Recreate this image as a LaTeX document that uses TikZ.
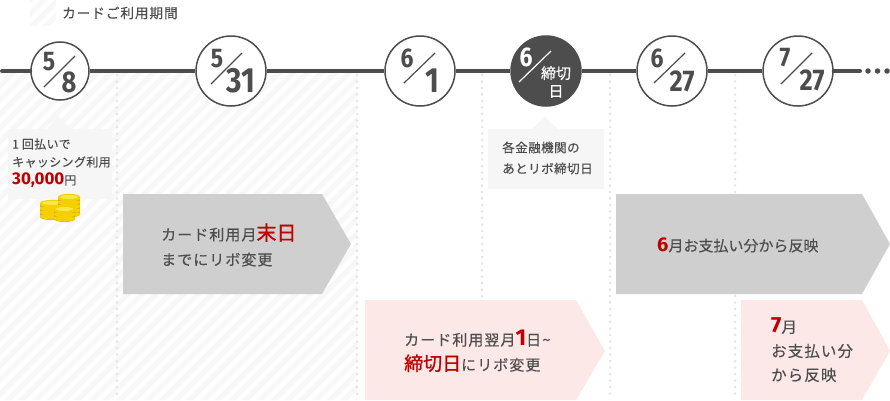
\documentclass[tikz,border=0pt]{standalone}
\usepackage{fontspec}
\setmainfont{Noto Sans CJK JP}
\newfontfamily\jp[LetterSpace=7,FakeBold=0.25]{Noto Sans CJK JP}
\newfontfamily\jpn[FakeBold=0.25]{Noto Sans CJK JP}
\newfontfamily\jps[LetterSpace=3,FakeBold=0.2]{Noto Sans CJK JP}
\newfontfamily\jpr[FakeBold=1.0]{Noto Sans CJK JP}
\newfontfamily\num[FakeStretch=0.85]{Fira Sans}
\newfontfamily\numw{Fira Sans}
\definecolor{ink}{HTML}{4D4D4D}
\definecolor{redt}{HTML}{C00000}
\definecolor{hatch}{HTML}{F7F7F7}
\definecolor{dotc}{HTML}{E6E6E6}
\definecolor{panel}{HTML}{F6F6F6}
\definecolor{greya}{HTML}{CFCFCF}
\definecolor{pinka}{HTML}{FDE8E8}
\definecolor{gold}{HTML}{F4D000}
\definecolor{goldl}{HTML}{FBE64A}
\definecolor{goldd}{HTML}{DDB400}
\tikzset{
  circ/.style={circle,draw=ink,line width=1.5pt,fill=white,inner sep=0pt},
  circd/.style={circle,draw=ink,line width=1.5pt,fill=ink,inner sep=0pt},
  tl/.style={draw=ink,line width=4pt},
  slashl/.style={draw=ink,line width=1.2pt},
  txt/.style={text=ink,align=left,anchor=west,inner sep=0pt,font=\jp\fontsize{15}{25}\selectfont},
  smalltxt/.style={text=ink,align=left,anchor=west,inner sep=0pt,font=\jps\fontsize{12}{18}\selectfont},
  numt/.style={text=ink,inner sep=0pt,font=\num\bfseries\fontsize{27}{27}\selectfont},
  numb/.style={text=ink,inner sep=0pt,font=\num\bfseries\fontsize{35}{35}\selectfont},
  numm/.style={text=ink,inner sep=0pt,font=\num\bfseries\fontsize{30}{30}\selectfont},
  dotl/.style={draw=dotc,line width=3pt,line cap=round,dash pattern=on 0pt off 6.5pt},
}
\newcommand{\coin}[4]{% x y rx h
  \fill[goldd] (#1-#3,#2) rectangle (#1+#3,#2+#4);
  \fill[goldd] (#1,#2+#4) ellipse [x radius=#3,y radius=3];
  \foreach \k in {0,4,...,#4}{\fill[gold] (#1-#3,#2+\k) -- (#1+#3,#2+\k) -- (#1+#3,#2+\k+1.5) arc[start angle=0,end angle=180,x radius=#3,y radius=3] -- cycle;}
  \fill[gold] (#1,#2) ellipse [x radius=#3,y radius=3.2];
  \fill[goldl] (#1,#2) ellipse [x radius=#3-2,y radius=2];
}
\begin{document}
\begin{tikzpicture}[x=1pt,y=-1pt]
\useasboundingbox (0,0) rectangle (890,400);
% hatched areas
\begin{scope}
\clip (0,72) rectangle (357,400) (30,0) rectangle (56,26);
\foreach \i in {0,...,70}{
  \draw[hatch,line width=5pt] (\i*14-450,410) -- (\i*14-450+420,-10);
}
\end{scope}
% dotted guides
\foreach \x/\n in {117/a,357/b,482/c,610/d,735/e}{
  \coordinate (top\n) at (\x,75); \coordinate (bot\n) at (\x,400);
  \draw[dotl] (top\n) -- (bot\n);
}
% dates
\node[circ,minimum size=58pt] (d1) at (60,71) {};
\node[circ,minimum size=70pt] (d2) at (231,71) {};
\node[circ,minimum size=70pt] (d3) at (420,71) {};
\node[circd,minimum size=70pt] (d4) at (546,71) {};
\node[circ,minimum size=70pt] (d5) at (672,71) {};
\node[circ,minimum size=70pt] (d6) at (798,71) {};
\coordinate (s) at (2,71); \coordinate (e) at (860,71);
\draw[tl,line cap=round] (s) -- (d1);
\draw[tl] (d1) -- (d2); \draw[tl] (d2) -- (d3); \draw[tl] (d3) -- (d4); \draw[tl] (d4) -- (d5); \draw[tl] (d5) -- (d6);
\draw[tl,line cap=round] (d6) -- (e);
\foreach \x/\n in {868/p,877.5/q,887/r}{\node[circle,fill=ink,minimum size=5.5pt,inner sep=0pt] (\n) at (\x,71) {};}
% slashes
\draw[slashl] (44,87) -- (75,56);
\draw[slashl] (211,84) -- (242,53);
\draw[slashl] (404,83) -- (435,53);
\draw[draw=white,line width=1.2pt] (519,82) -- (551,51);
\draw[slashl] (654,83) -- (685,53);
\draw[slashl] (781,84) -- (812,53);
% numbers
\node[numt] (n1a) at (49,62) {5}; \node[numm] (n1b) at (69,82) {8};
\node[numt] (n2a) at (217,58.5) {5}; \node[numb] (n2b) at (241,81) {31};
\node[numt] (n3a) at (407,58) {6}; \node[numb] (n3b) at (432,81) {1};
\node[text=white,inner sep=0pt,font=\num\bfseries\fontsize{27}{27}\selectfont] (n4a) at (526,57) {6};
\node[text=white,inner sep=0pt,align=center,font=\jpn\fontsize{15}{18}\selectfont] (n4b) at (556,82) {締切\\日};
\node[numt] (n5a) at (657,58) {6}; \node[numm] (n5b) at (682,81) {27};
\node[numt] (n6a) at (785,58) {7}; \node[numm] (n6b) at (812,80) {27};
% legend
\node[smalltxt,font=\jp\fontsize{13.6}{16}\selectfont] (leg) at (62,13) {カードご利用期間};
% callout 1
\fill[panel] (8,129) -- (47,129) -- (58,115) -- (71,129) -- (112,129) -- (112,199) -- (8,199) -- cycle;
\node[smalltxt] (c1) at (12,163) {1\hspace{3pt}回払いで\\キャッシング利用\\{\color{redt}\numw\bfseries\fontsize{17}{17}\selectfont 30,000}円};
% coins
\coin{52}{203}{12}{14}
\coin{69}{197}{11}{17}
\coin{64.5}{209}{10.5}{10}
% callout 2
\fill[panel] (488,129) -- (532,129) -- (545,117) -- (558,129) -- (604,129) -- (604,189) -- (488,189) -- cycle;
\node[smalltxt,font=\jps\fontsize{12.6}{21}\selectfont] (c2) at (502,158) {各金融機関の\\あとリボ締切日};
% arrows
\fill[greya] (123,194) -- (322,194) -- (351,244) -- (322,294) -- (123,294) -- cycle;
\node[txt] (g1) at (161,245) {カード利用月{\color{redt}\jpr\fontsize{20}{20}\selectfont 末日}\\までにリボ変更};
\fill[greya] (616,194) -- (862,194) -- (890,244) -- (862,294) -- (616,294) -- cycle;
\node[txt,font=\jpn\fontsize{15}{25}\selectfont] (g2) at (657,245) {{\color{redt}\numw\bfseries\fontsize{20}{20}\selectfont 6}月お支払い分から反映};
\fill[pinka] (365,300) -- (576,300) -- (605,351) -- (576,400) -- (365,400) -- cycle;
\node[txt] (p1) at (404,351) {カード利用翌月{\color{redt}\numw\bfseries\fontsize{23}{23}\selectfont 1}日\textasciitilde\\{\color{redt}\jpr\fontsize{19}{19}\selectfont 締切日}にリボ変更};
\fill[pinka] (741,300) -- (862,300) -- (890,351) -- (862,400) -- (741,400) -- cycle;
\node[txt,font=\jp\fontsize{15.5}{24}\selectfont] (p2) at (771,350) {{\color{redt}\numw\bfseries\fontsize{22}{22}\selectfont 7}月\\お支払い分\\から反映};
\end{tikzpicture}
\end{document}
